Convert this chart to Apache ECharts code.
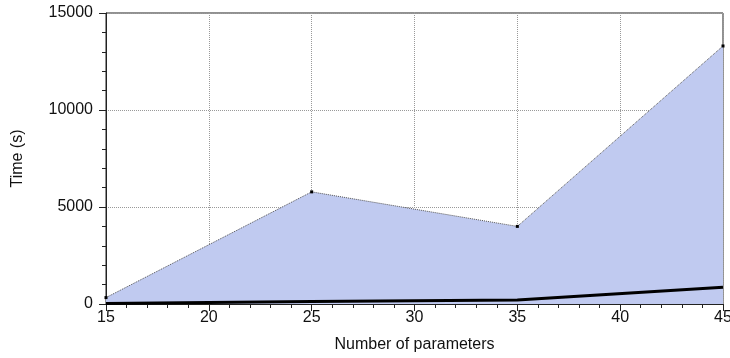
<!DOCTYPE html>
<html><head><meta charset="utf-8">
<script src="https://cdn.jsdelivr.net/npm/echarts@6/dist/echarts.min.js"></script>
<style>html,body{margin:0;padding:0;background:#fff}#c{width:730px;height:358px}</style>
</head><body><div id="c"></div>
<script>
const params = [15, 25, 35, 45];
const upperTimes = [330, 5780, 4000, 13300];
const lowerTimes = [20, 130, 200, 860];
const xTicks = [15, 20, 25, 30, 35, 40, 45];
const yTicks = [0, 5000, 10000, 15000];

const chart = echarts.init(document.getElementById('c'), null, {renderer: 'canvas'});
const font = 'Liberation Sans, Arial, sans-serif';
const axisCommon = {
  axisLine: {show: true, onZero: false, lineStyle: {color: '#222', width: 1}},
  axisTick: {show: true, inside: false, length: 7, lineStyle: {color: '#222'}},
  minorTick: {show: true, splitNumber: 5, length: 4, lineStyle: {color: '#222'}},
  splitLine: {show: true, lineStyle: {color: '#999', type: [1, 1], width: 1}},
  axisLabel: {color: '#111', fontSize: 16, fontFamily: font}
};
chart.setOption({
  animation: false,
  grid: {left: 106, right: 7, top: 13, bottom: 54, show: true, borderColor: '#222', borderWidth: 1,
         outerBoundsMode: 'none', containLabel: false},
  xAxis: Object.assign({}, axisCommon, {
    type: 'value', min: xTicks[0], max: xTicks[xTicks.length-1], interval: 5,
    name: 'Number of parameters', nameLocation: 'middle', nameGap: 33,
    nameTextStyle: {color: '#111', fontSize: 16, fontFamily: font},
    axisLabel: Object.assign({}, axisCommon.axisLabel, {margin: 6})
  }),
  yAxis: Object.assign({}, axisCommon, {
    type: 'value', min: yTicks[0], max: yTicks[yTicks.length-1], interval: 5000,
    name: 'Time (s)', nameLocation: 'middle', nameGap: 80, nameRotate: 90,
    nameTextStyle: {color: '#111', fontSize: 16, fontFamily: font},
    axisLabel: Object.assign({}, axisCommon.axisLabel, {margin: 13, formatter: v => String(v)})
  }),
  series: [
    {
      type: 'line', data: params.map((p, i) => [p, upperTimes[i]]),
      symbol: 'rect', symbolSize: 3, showSymbol: true,
      itemStyle: {color: '#000'},
      lineStyle: {color: '#555', width: 1, type: [1, 1]},
      areaStyle: {color: 'rgb(192,202,240)', opacity: 1, origin: 'start'},
      z: 2
    },
    {
      type: 'line', data: params.map((p, i) => [p, lowerTimes[i]]),
      symbol: 'none',
      lineStyle: {color: '#000', width: 3},
      z: 3
    }
  ]
});
</script></body></html>
